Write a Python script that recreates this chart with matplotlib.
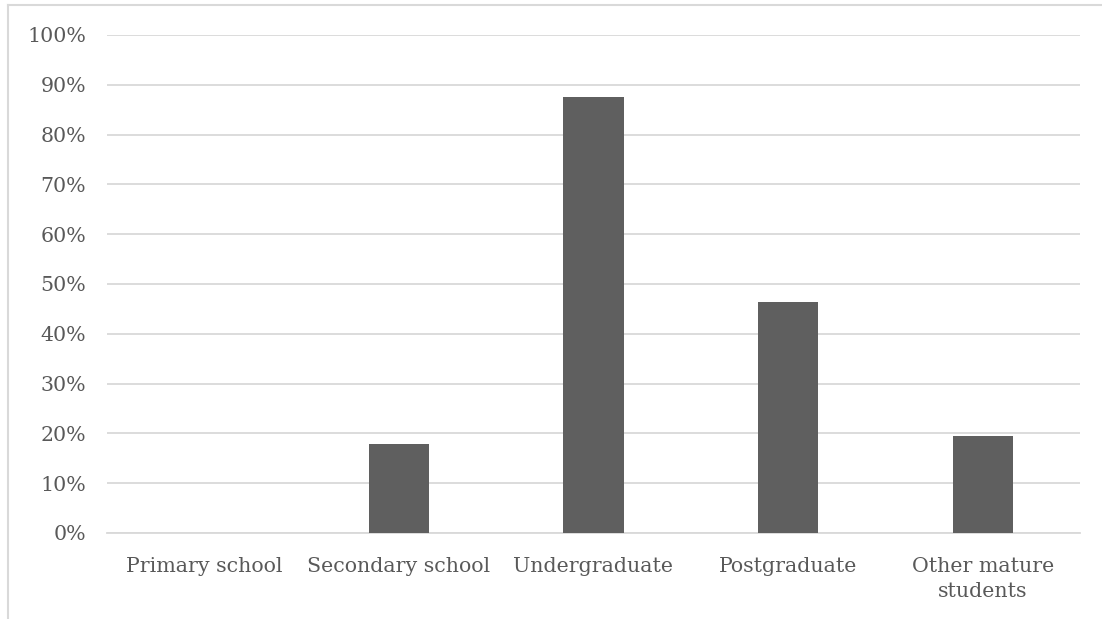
import matplotlib
matplotlib.use("Agg")
import matplotlib.pyplot as plt
from matplotlib.lines import Line2D
from matplotlib.ticker import FuncFormatter, MultipleLocator

categories = ["Primary school", "Secondary school", "Undergraduate",
              "Postgraduate", "Other mature\nstudents"]
shares = [0.0, 17.9, 87.5, 46.3, 19.5]

text_color = "#595959"
grid_color = "#d9d9d9"
bar_color = "#5f5f5f"
font = "DejaVu Serif"

fig = plt.figure(figsize=(11.02, 6.19), dpi=100)
ax = fig.add_axes([107 / 1102, 1 - 533 / 619, (1080 - 107) / 1102, (533 - 35) / 619])

x = range(len(categories))
ax.bar(x, shares, width=0.31, color=bar_color, zorder=3)

ax.set_xlim(-0.5, len(categories) - 0.5)
ax.set_ylim(0, 100)
ax.yaxis.set_major_locator(MultipleLocator(10))
ax.yaxis.set_major_formatter(FuncFormatter(lambda v, _: f"{v:.0f}%"))
ax.grid(axis="y", color=grid_color, linewidth=1.3, zorder=0)
ax.set_xticks(list(x))
ax.set_xticklabels(categories, linespacing=1.4)

for side in ("top", "right", "left"):
    ax.spines[side].set_visible(False)
ax.spines["bottom"].set_color(grid_color)
ax.spines["bottom"].set_linewidth(1.3)

ax.tick_params(axis="both", length=0, colors=text_color, labelsize=14.8)
ax.tick_params(axis="y", pad=15)
ax.tick_params(axis="x", pad=17)
for lbl in ax.get_xticklabels() + ax.get_yticklabels():
    lbl.set_fontfamily(font)
    lbl.set_color(text_color)

# chart frame, running off the right and bottom edges
fig.add_artist(Line2D([8 / 1102, 1.0], [1 - 5 / 619, 1 - 5 / 619],
                      color=grid_color, linewidth=1.5, transform=fig.transFigure))
fig.add_artist(Line2D([8 / 1102, 8 / 1102], [0.0, 1 - 5 / 619],
                      color=grid_color, linewidth=1.5, transform=fig.transFigure))

fig.savefig("out.png", dpi=100)
